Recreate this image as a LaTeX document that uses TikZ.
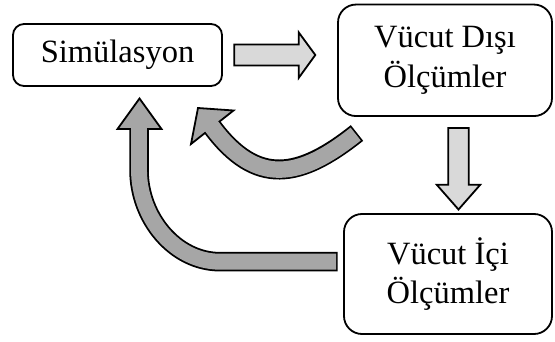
\documentclass[tikz,border=0pt]{standalone}
\usepackage{fontspec}
\setmainfont{Liberation Serif}
\definecolor{lightg}{HTML}{D9D9D9}
\definecolor{darkg}{HTML}{A6A6A6}
\begin{document}
\begin{tikzpicture}[x=1pt,y=-1pt,
  box/.style={draw=black,line width=1.8pt,fill=white,align=center,
    font=\fontsize{32.5}{39.5}\selectfont,inner sep=0pt},
  flatarrow/.style={fill=lightg,draw=black,line width=1.8pt,line join=miter},
  headdark/.style={fill=darkg,draw=black,line width=1.8pt,line join=miter},
  shaftblack/.style={draw=black,line cap=butt},
  shaftgray/.style={draw=darkg,line cap=butt}]
\useasboundingbox (0,0) rectangle (555,342);

% boxes
\node[box,rounded corners=11pt,minimum width=209pt,minimum height=62pt] (sim) at (117.5,55) {Simülasyon};
\node[box,rounded corners=18pt,minimum width=214pt,minimum height=111.5pt] (disi) at (445,60.3) {Vücut Dışı\\Ölçümler};
\node[box,rounded corners=18pt,minimum width=208pt,minimum height=120pt] (ici) at (448,274) {Vücut İçi\\Ölçümler};

% straight block arrows
\filldraw[flatarrow] (234.2,44.5) -- (298.8,44.5) -- (298.8,32.5) -- (315.3,55)
  -- (298.8,77.8) -- (298.8,65.5) -- (234.2,65.5) -- cycle;
\filldraw[flatarrow] (448.2,128.1) -- (448.2,184.8) -- (436.8,184.8) -- (458.5,209.5)
  -- (480.2,184.8) -- (468.8,184.8) -- (468.8,128.1) -- cycle;

% curved arrow from Dis to Simulasyon
\draw[shaftblack,line width=20pt] (357,133) .. controls (299.5,178.7) and (256.7,186.5) .. (212.5,127.5) -- (210,124.3);
\filldraw[headdark] (198,108) -- (233.5,110.5) -- (191,144) -- cycle;
\draw[shaftgray,line width=16.4pt,shorten <=1.7pt] (357,133) .. controls (299.5,178.7) and (256.7,186.5) .. (212.5,127.5) -- (210,124.3);

% big curved arrow from Ici to Simulasyon
\draw[shaftblack,line width=19.5pt] (337.7,261.7) -- (220,261.7) .. controls (175,261.7) and (139,218) .. (139,170) -- (139,126);
\filldraw[headdark] (117.5,129) -- (161.5,129) -- (139.5,98.5) -- cycle;
\draw[shaftgray,line width=15.9pt,shorten <=1.7pt] (337.7,261.7) -- (220,261.7) .. controls (175,261.7) and (139,218) .. (139,170) -- (139,126);
\end{tikzpicture}
\end{document}
